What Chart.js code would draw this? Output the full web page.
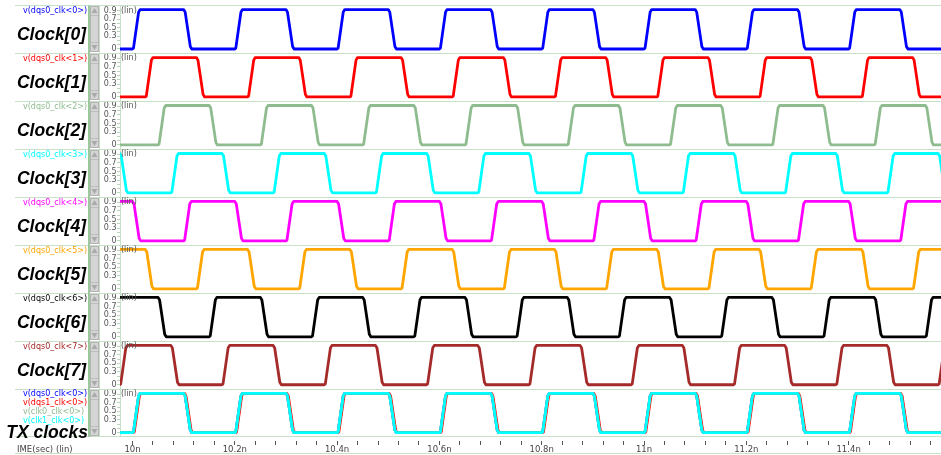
<!DOCTYPE html>
<html><head><meta charset="utf-8">
<script src="https://cdn.jsdelivr.net/npm/chart.js@4.4.1/dist/chart.umd.min.js"></script>
<style>html,body{margin:0;padding:0;background:#fff;overflow:hidden}#c{display:block}</style>
</head><body>
<canvas id="c" width="941" height="455"></canvas>
<script>
// ---------------- data ----------------
const panelLabels = ['Clock[0]','Clock[1]','Clock[2]','Clock[3]','Clock[4]','Clock[5]','Clock[6]','Clock[7]','TX clocks'];
const panelLegends = [
  ['v(dqs0_clk<0>)'],['v(dqs0_clk<1>)'],['v(dqs0_clk<2>)'],['v(dqs0_clk<3>)'],
  ['v(dqs0_clk<4>)'],['v(dqs0_clk<5>)'],['v(dqs0_clk<6>)'],['v(dqs0_clk<7>)'],
  ['v(dqs0_clk<0>)','v(dqs1_clk<0>)','v(clk0_clk<0>)','v(clk1_clk<0>)']
];
const xMin = 9.9756, xMax = 11.5806;           // ns
const xMajorTicks = [10.0,10.2,10.4,10.6,10.8,11.0,11.2,11.4];
const xTickLabels = ['10n','10.2n','10.4n','10.6n','10.8n','11n','11.2n','11.4n'];
const yTickValues = [0,0.1,0.2,0.3,0.4,0.5,0.6,0.7,0.8,0.9];
const yTickLabels = ['0','','','0.3','','0.5','','0.7','','0.9'];
const lowLevel = 0.0, highLevel = 0.92;

// edge start times (ns)
const clk0Rise = [10.000,10.200,10.400,10.600,10.800,11.000,11.200,11.400];
const clk0Fall = [10.100,10.300,10.500,10.700,10.900,11.100,11.300,11.500];
const clk1Rise = [10.025,10.225,10.425,10.625,10.825,11.025,11.225,11.425];
const clk1Fall = [10.125,10.325,10.525,10.725,10.925,11.125,11.325,11.525];
const clk2Rise = [10.050,10.250,10.450,10.650,10.850,11.050,11.250,11.450];
const clk2Fall = [10.150,10.350,10.550,10.750,10.950,11.150,11.350,11.550];
const clk3Rise = [10.075,10.275,10.475,10.675,10.875,11.075,11.275,11.475];
const clk3Fall = [9.975,10.175,10.375,10.575,10.775,10.975,11.175,11.375,11.575];
const clk4Rise = [10.100,10.300,10.500,10.700,10.900,11.100,11.300,11.500];
const clk4Fall = [10.000,10.200,10.400,10.600,10.800,11.000,11.200,11.400];
const clk5Rise = [10.125,10.325,10.525,10.725,10.925,11.125,11.325,11.525];
const clk5Fall = [10.025,10.225,10.425,10.625,10.825,11.025,11.225,11.425];
const clk6Rise = [10.150,10.350,10.550,10.750,10.950,11.150,11.350,11.550];
const clk6Fall = [10.050,10.250,10.450,10.650,10.850,11.050,11.250,11.450];
const clk7Rise = [9.975,10.175,10.375,10.575,10.775,10.975,11.175,11.375,11.575];
const clk7Fall = [10.075,10.275,10.475,10.675,10.875,11.075,11.275,11.475];
// TX clocks panel: four nearly coincident traces
const txDqs0Rise = [10.000,10.200,10.400,10.600,10.800,11.000,11.200,11.400];
const txDqs0Fall = [10.100,10.300,10.500,10.700,10.900,11.100,11.300,11.500];
const txDqs1Rise = [10.0015,10.2015,10.4015,10.6015,10.8015,11.0015,11.2015,11.4015];
const txDqs1Fall = [10.1015,10.3015,10.5015,10.7015,10.9015,11.1015,11.3015,11.5015];
const txClk0Rise = [10.000,10.200,10.400,10.600,10.800,11.000,11.200,11.400];
const txClk0Fall = [10.100,10.300,10.500,10.700,10.900,11.100,11.300,11.500];
const txClk1Rise = [10.000,10.200,10.400,10.600,10.800,11.000,11.200,11.400];
const txClk1Fall = [10.100,10.300,10.500,10.700,10.900,11.100,11.300,11.500];
const startHigh = [false,false,false,true,true,true,true,false,false];

// edge shape (time offset ns, level)
const riseShape = [[0,0.0],[0.002,0.02],[0.012,0.86],[0.015,0.92]];
const fallShape = [[0,0.92],[0.003,0.86],[0.013,0.06],[0.016,0.0]];

const colors = ['#0000ff','#ff0000','#8fbc8f','#00ffff','#ff00ff','#ffa500','#000000','#a52a2a'];
const txColors = ['#0000ff','#ff0000','#8fbc8f','#00ffff'];

function buildWave(rises, falls, high) {
  const edges = rises.map(t => ({t, r:true})).concat(falls.map(t => ({t, r:false}))).sort((a,b)=>a.t-b.t);
  const pts = [{x: xMin - 0.05, y: high ? highLevel : lowLevel}];
  for (const e of edges) {
    const sh = e.r ? riseShape : fallShape;
    for (const [dt, v] of sh) pts.push({x: e.t + dt, y: v});
  }
  const last = edges[edges.length-1];
  pts.push({x: xMax + 0.05, y: last.r ? highLevel : lowLevel});
  return pts;
}

const waves = [
  [clk0Rise,clk0Fall],[clk1Rise,clk1Fall],[clk2Rise,clk2Fall],[clk3Rise,clk3Fall],
  [clk4Rise,clk4Fall],[clk5Rise,clk5Fall],[clk6Rise,clk6Fall],[clk7Rise,clk7Fall]
];
const txWaves = [[txDqs0Rise,txDqs0Fall],[txDqs1Rise,txDqs1Fall],[txClk0Rise,txClk0Fall],[txClk1Rise,txClk1Fall]];

const datasets = [];
waves.forEach((w, k) => {
  datasets.push({data: buildWave(w[0], w[1], startHigh[k]), yAxisID: 'y'+k, borderColor: colors[k], order: 10});
});
// later series drawn on top (lower order = on top)
txWaves.forEach((w, i) => {
  datasets.push({data: buildWave(w[0], w[1], false), yAxisID: 'y8', borderColor: txColors[i], order: 4 - i});
});
datasets.forEach(d => Object.assign(d, {xAxisID:'x', borderWidth:2.8, pointRadius:0, tension:0, fill:false,
  borderJoinStyle:'round', borderCapStyle:'round'}));

// ---------------- scales ----------------
const xTicks = [];
xMajorTicks.forEach(m => { xTicks.push(m); for (let j=1;j<=4;j++) xTicks.push(+(m+0.04*j).toFixed(3)); });
const sepColor = '#c8e0c8';
const scales = {
  x: {
    type:'linear', position:'bottom', min:xMin, max:xMax,
    afterBuildTicks: s => { s.ticks = xTicks.map(v => ({value:v})); },
    afterFit: s => { s.height = 18; },
    ticks: {
      autoSkip:false, maxRotation:0, padding:0, color:'#444',
      font:{family:'DejaVu Sans', size:8.5},
      callback: v => { const i = xMajorTicks.findIndex(m => Math.abs(m - v) < 1e-6); return i >= 0 ? xTickLabels[i] : ''; }
    },
    grid: { drawOnChartArea:false, tickLength:8, tickColor:'#555', tickWidth:1, tickBorderDash:[0,4,4,20] },
    border: { display:false }
  }
};
for (let k = 8; k >= 0; k--) {
  scales['y'+k] = {
    type:'linear', position:'left', stack:'panels', stackWeight:1, weight: 9-k,
    min:-0.1, max:1.02,
    afterBuildTicks: s => { s.ticks = yTickValues.map(v => ({value:v})); },
    afterFit: s => { s.width = 120; },
    ticks: {
      autoSkip:false, padding:0.5, color:'#555',
      font:{family:'DejaVu Sans', size:8},
      callback: (v, i) => yTickLabels[i]
    },
    grid: { drawOnChartArea:false, tickLength:3, tickColor:'#b8d6b8' },
    border: { display:true, color:sepColor, width:1 }
  };
}

// ---------------- decorations ----------------
const panelPlugin = {
  id:'panels',
  beforeDatasetsDraw(chart) {
    const ctx = chart.ctx;
    ctx.save();
    ctx.strokeStyle = sepColor; ctx.lineWidth = 1;
    for (let k = 0; k <= 8; k++) {
      const s = chart.scales['y'+k];
      ctx.beginPath(); ctx.moveTo(15, Math.round(s.top)+0.5); ctx.lineTo(941, Math.round(s.top)+0.5); ctx.stroke();
    }
    const sb = chart.scales.y8;
    ctx.beginPath(); ctx.moveTo(15, Math.round(sb.bottom)-0.5); ctx.lineTo(941, Math.round(sb.bottom)-0.5); ctx.stroke();
    ctx.beginPath(); ctx.moveTo(15, 453.5); ctx.lineTo(941, 453.5); ctx.stroke();
    ctx.restore();
  },
  afterDraw(chart) {
    const ctx = chart.ctx;
    const ca = chart.chartArea;
    ctx.save();
    // vertical divider + scrollbars
    ctx.strokeStyle = '#9cc69c'; ctx.lineWidth = 2;
    ctx.beginPath(); ctx.moveTo(89, ca.top); ctx.lineTo(89, ca.bottom); ctx.stroke();
    ctx.strokeStyle = sepColor; ctx.lineWidth = 1;
    ctx.beginPath(); ctx.moveTo(99.5, ca.top); ctx.lineTo(99.5, ca.bottom); ctx.stroke();
    for (let k = 0; k <= 8; k++) {
      const s = chart.scales['y'+k];
      const t = Math.round(s.top), b = Math.round(s.bottom);
      ctx.fillStyle = '#d5d5d5';
      ctx.fillRect(90.5, t+1, 8, b-t-2);
      ctx.strokeStyle = '#b4b4b4'; ctx.lineWidth = 1;
      ctx.strokeRect(90.5, t+1.5, 8, b-t-3);
      ctx.fillStyle = '#a8a8a8';
      ctx.beginPath(); ctx.moveTo(94.5, t+3); ctx.lineTo(97.5, t+8); ctx.lineTo(91.5, t+8); ctx.closePath(); ctx.fill();
      ctx.beginPath(); ctx.moveTo(94.5, b-3); ctx.lineTo(97.5, b-8); ctx.lineTo(91.5, b-8); ctx.closePath(); ctx.fill();
      ctx.strokeStyle = '#bdbdbd';
      ctx.beginPath(); ctx.moveTo(91, t+10.5); ctx.lineTo(98, t+10.5); ctx.moveTo(91, b-10.5); ctx.lineTo(98, b-10.5); ctx.stroke();

      // (lin)
      ctx.fillStyle = '#555';
      ctx.font = '8px "DejaVu Sans"';
      ctx.textAlign = 'left'; ctx.textBaseline = 'middle';
      ctx.fillText('(lin)', 121, s.getPixelForValue(0.9));

      // legend names
      const names = panelLegends[k];
      const cols = k < 8 ? [colors[k]] : txColors;
      names.forEach((n, i) => {
        ctx.fillStyle = cols[i];
        ctx.textAlign = 'left';
        ctx.fillText(n, 23, s.top + (k < 8 ? 6 : 5 + 9*i));
      });

      // big label
      ctx.fillStyle = '#000';
      ctx.font = 'italic bold 17.5px "Liberation Sans"';
      ctx.textAlign = 'right'; ctx.textBaseline = 'alphabetic';
      ctx.fillText(panelLabels[k], k < 8 ? 86 : 88, s.top + (k < 8 ? 35 : 49));
    }
    ctx.fillStyle = '#444';
    ctx.font = '8.5px "DejaVu Sans"';
    ctx.textAlign = 'left'; ctx.textBaseline = 'middle';
    ctx.fillText('IME(sec) (lin)', 17, 450);
    ctx.restore();
  }
};

new Chart(document.getElementById('c'), {
  type:'line',
  data:{ datasets },
  options:{
    responsive:false, animation:false, devicePixelRatio:1, events:[],
    layout:{ padding:{ left:0, right:0, top:5, bottom:0 } },
    plugins:{ legend:{display:false}, tooltip:{enabled:false} },
    scales
  },
  plugins:[panelPlugin]
});
</script>
</body></html>
